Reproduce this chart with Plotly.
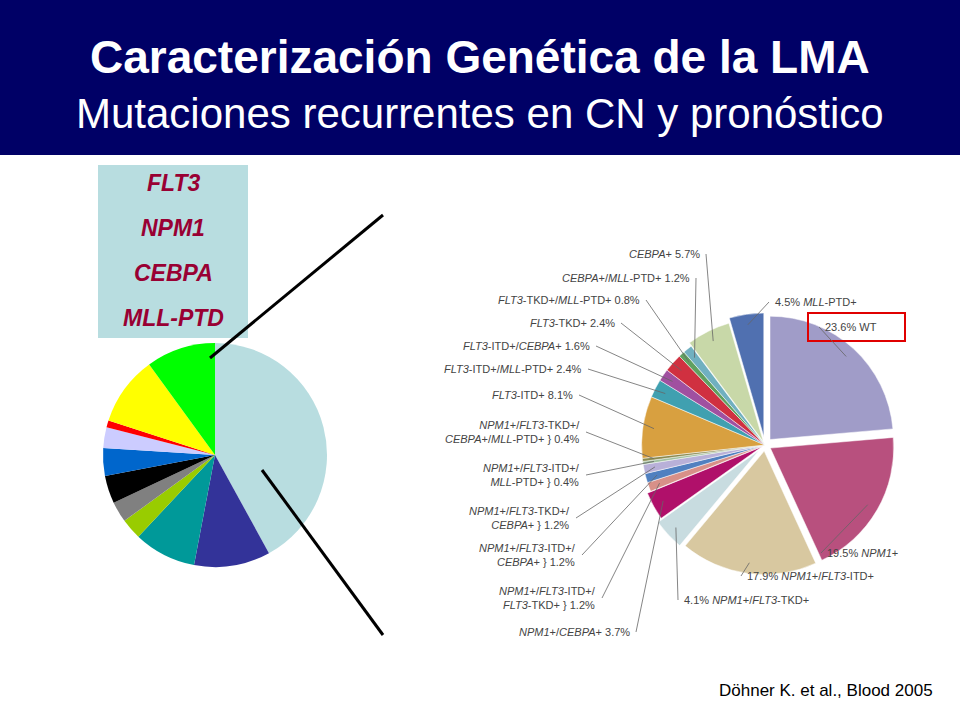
import math

import plotly.graph_objects as go

W, H = 960, 720

# Left overview pie (approximate shares)
left_values = [42, 11, 9, 3, 3, 4, 4, 3, 1, 10, 10]
left_colors = ["#b8dde0", "#333399", "#009999", "#99cc00", "#808080", "#000000",
               "#0066cc", "#ccccff", "#ff0000", "#ffff00", "#00ff00"]

# Right detailed pie (Döhner 2005), clockwise from 12 o'clock
right_labels = ["WT", "NPM1+", "NPM1+/FLT3-ITD+", "NPM1+/FLT3-TKD+", "NPM1+/CEBPA+",
                "NPM1+/FLT3-ITD+/FLT3-TKD+", "NPM1+/FLT3-ITD+/CEBPA+",
                "NPM1+/FLT3-TKD+/CEBPA+", "NPM1+/FLT3-ITD+/MLL-PTD+",
                "NPM1+/FLT3-TKD+/CEBPA+/MLL-PTD+", "FLT3-ITD+", "FLT3-ITD+/MLL-PTD+",
                "FLT3-ITD+/CEBPA+", "FLT3-TKD+", "FLT3-TKD+/MLL-PTD+",
                "CEBPA+/MLL-PTD+", "CEBPA+", "MLL-PTD+"]
right_values = [23.6, 19.5, 17.9, 4.1, 3.7, 1.2, 1.2, 1.2, 0.4, 0.4, 8.1, 2.4,
                1.6, 2.4, 0.8, 1.2, 5.7, 4.5]
right_colors = ["#a09cc8", "#b8507e", "#d8c8a0", "#c8dce0", "#b0106a", "#d89088",
                "#5080c0", "#b8b0d8", "#a0c0a0", "#8a8a50", "#d8a040", "#40a0b0",
                "#a050a0", "#d03040", "#60a060", "#70b0c0", "#c8d8a8", "#5070b0"]
right_pull = [0.06, 0.05, 0.05, 0.07, 0.03, 0, 0, 0, 0, 0, 0, 0, 0, 0, 0, 0, 0.03, 0.07]

# Label texts for the right pie
right_texts = [
    "23.6% WT", "19.5% <i>NPM1</i>+", "17.9% <i>NPM1</i>+/<i>FLT3</i>-ITD+",
    "4.1% <i>NPM1</i>+/<i>FLT3</i>-TKD+", "<i>NPM1</i>+/<i>CEBPA</i>+ 3.7%",
    "<i>NPM1</i>+/<i>FLT3</i>-ITD+/<br><i>FLT3</i>-TKD+ } 1.2%",
    "<i>NPM1</i>+/<i>FLT3</i>-ITD+/<br><i>CEBPA</i>+ } 1.2%",
    "<i>NPM1</i>+/<i>FLT3</i>-TKD+/<br><i>CEBPA</i>+ } 1.2%",
    "<i>NPM1</i>+/<i>FLT3</i>-ITD+/<br><i>MLL</i>-PTD+ } 0.4%",
    "<i>NPM1</i>+/<i>FLT3</i>-TKD+/<br><i>CEBPA</i>+/<i>MLL</i>-PTD+ } 0.4%",
    "<i>FLT3</i>-ITD+ 8.1%", "<i>FLT3</i>-ITD+/<i>MLL</i>-PTD+ 2.4%",
    "<i>FLT3</i>-ITD+/<i>CEBPA</i>+ 1.6%", "<i>FLT3</i>-TKD+ 2.4%",
    "<i>FLT3</i>-TKD+/<i>MLL</i>-PTD+ 0.8%", "<i>CEBPA</i>+/<i>MLL</i>-PTD+ 1.2%",
    "<i>CEBPA</i>+ 5.7%", "4.5% <i>MLL</i>-PTD+",
]
# label anchor (pixel x, pixel y, side)
right_text_pos = [
    (823, 327, "left"), (825, 553, "left"), (745, 576, "left"), (682, 600, "left"),
    (632, 632, "right"), (598, 598, "right"), (578, 555, "right"), (572, 518, "right"),
    (582, 475, "right"), (582, 432, "right"), (575, 395, "right"), (584, 369, "right"),
    (592, 346, "right"), (617, 323, "right"), (642, 300, "right"), (692, 278, "right"),
    (702, 254, "right"), (773, 302, "left"),
]

genes = ["FLT3", "NPM1", "CEBPA", "MLL-PTD"]

LCX, LCY, LR = 215, 455, 112
RCX, RCY, RR = 765, 445, 132


def px_dom(cx, cy, r):
    return {"x": [(cx - r) / W, (cx + r) / W], "y": [1 - (cy + r) / H, 1 - (cy - r) / H]}


fig = go.Figure()
fig.add_trace(go.Pie(values=left_values, marker={"colors": left_colors},
                     sort=False, direction="clockwise", rotation=0,
                     textinfo="none", hoverinfo="skip", domain=px_dom(LCX, LCY, LR)))
fig.add_trace(go.Pie(values=right_values, labels=right_labels,
                     marker={"colors": right_colors, "line": {"color": "white", "width": 0.5}},
                     pull=right_pull, sort=False, direction="clockwise", rotation=0,
                     textinfo="none", domain=px_dom(RCX, RCY, RR)))

shapes = [
    dict(type="rect", xref="paper", yref="paper", x0=0, x1=1, y0=1 - 155 / H, y1=1,
         fillcolor="#000066", line={"width": 0}, layer="below"),
    dict(type="rect", xref="paper", yref="paper", x0=98 / W, x1=248 / W,
         y0=1 - 338 / H, y1=1 - 165 / H, fillcolor="#b8dde0", line={"width": 0},
         layer="below"),
    dict(type="line", xref="paper", yref="paper", x0=210 / W, y0=1 - 358 / H,
         x1=383 / W, y1=1 - 215 / H, line={"color": "black", "width": 3}),
    dict(type="line", xref="paper", yref="paper", x0=262 / W, y0=1 - 470 / H,
         x1=383 / W, y1=1 - 635 / H, line={"color": "black", "width": 3}),
    dict(type="rect", xref="paper", yref="paper", x0=808 / W, x1=905 / W,
         y0=1 - 341 / H, y1=1 - 313 / H, line={"color": "#e00000", "width": 2}),
]

annotations = [
    dict(text="<b>Caracterización Genética de la LMA</b>", x=0.5, y=1 - 57 / H,
         font={"size": 46, "color": "white"}),
    dict(text="Mutaciones recurrentes en CN y pronóstico", x=0.5, y=1 - 113 / H,
         font={"size": 42, "color": "white"}),
    dict(text="Döhner K. et al., Blood 2005", x=935 / W, y=1 - 690 / H, xanchor="right",
         font={"size": 17, "color": "black"}),
]
for i, g in enumerate(genes):
    annotations.append(dict(text=f"<b><i>{g}</i></b>", x=173 / W, y=1 - (183 + i * 45) / H,
                            font={"size": 23, "color": "#990033"}))

# leader lines from labels to slice midpoints
cum = 0.0
total = sum(right_values)
for v, txt, (tx, ty, side), p in zip(right_values, right_texts, right_text_pos, right_pull):
    mid = (cum + v / 2) / total * 2 * math.pi
    cum += v
    rr = RR * (0.85 + p)
    sx, sy = RCX + rr * math.sin(mid), RCY - rr * math.cos(mid)
    lx = tx - 4 if side == "left" else tx + 4
    shapes.append(dict(type="line", xref="paper", yref="paper", x0=lx / W, y0=1 - ty / H,
                       x1=sx / W, y1=1 - sy / H, line={"color": "#666666", "width": 0.8}))
    annotations.append(dict(text=txt, x=tx / W, y=1 - ty / H,
                            xanchor="left" if side == "left" else "right", align="right",
                            font={"size": 11, "color": "#444444"}))

for a in annotations:
    a.setdefault("xref", "paper")
    a.setdefault("yref", "paper")
    a.setdefault("showarrow", False)
    a.setdefault("xanchor", "center")
    a.setdefault("yanchor", "middle")

fig.update_layout(
    width=W, height=H, margin={"l": 0, "r": 0, "t": 0, "b": 0},
    paper_bgcolor="white", showlegend=False,
    font={"family": "Liberation Sans, Arial, sans-serif"},
    shapes=shapes, annotations=annotations,
)
fig.write_html("out.html", config={"displayModeBar": False},
               post_script="document.body.style.margin='0';")
